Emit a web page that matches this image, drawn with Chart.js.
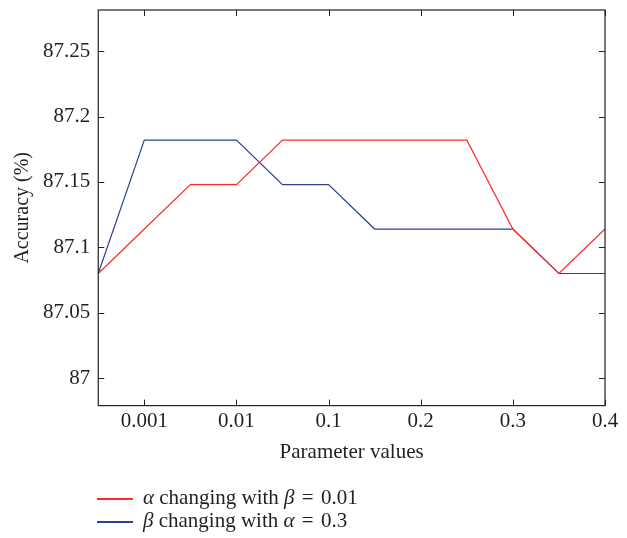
<!DOCTYPE html>
<html>
<head>
<meta charset="utf-8">
<script src="https://cdn.jsdelivr.net/npm/chart.js@4.4.0/dist/chart.umd.min.js"></script>
<style>
  html, body { margin: 0; padding: 0; background: #fff; }
  #wrap { position: relative; width: 627px; height: 538px; }
  #legend { position: absolute; left: 97px; top: 486px; font-family: "Liberation Serif", "DejaVu Serif", serif; font-size: 21px; color: #231f20; }
  #legend div { height: 23px; line-height: 23px; white-space: nowrap; }
  #legend span.sw { display: inline-block; width: 36px; height: 0; border-top: 2px solid; vertical-align: middle; margin-right: 10px; }
  #legend b { font-weight: normal; margin: 0 2px; }
</style>
</head>
<body>
<div id="wrap">
  <canvas id="grafico" width="627" height="538"></canvas>
  <div id="legend"></div>
</div>
<script>
// eixo x: 12 posições, só as ímpares têm rótulo
var xLabels = ['', '0.001', '', '0.01', '', '0.1', '', '0.2', '', '0.3', '', '0.4'];
var alphaValues = [87.080, 87.114, 87.148, 87.148, 87.182, 87.182, 87.182, 87.182, 87.182, 87.114, 87.080, 87.114];
var betaValues = [87.080, 87.182, 87.182, 87.182, 87.148, 87.148, 87.114, 87.114, 87.114, 87.114, 87.080, 87.080];
var seriesNames = ['<i>α</i> changing with <i>β</i> <b>=</b> 0.01', '<i>β</i> changing with <i>α</i> <b>=</b> 0.3'];
var seriesColors = ['#ff2b2b', '#2e3f94'];

var fonte = { family: '"Liberation Serif", "DejaVu Serif", serif', size: 21 };

// desenha a moldura com marcas para dentro
var moldura = {
    id: 'moldura',
    afterDraw: function (chart) {
        var ctx = chart.ctx, a = chart.chartArea;
        var x = chart.scales.x, y = chart.scales.y;
        ctx.save();
        ctx.strokeStyle = '#231f20';
        ctx.lineWidth = 1.2;
        ctx.strokeRect(a.left, a.top, a.right - a.left, a.bottom - a.top);
        ctx.lineWidth = 1;
        ctx.beginPath();
        xLabels.forEach(function (l, i) {
            if (l === '') return;
            var px = Math.round(x.getPixelForValue(i)) + 0.5;
            ctx.moveTo(px, a.bottom); ctx.lineTo(px, a.bottom - 6);
            ctx.moveTo(px, a.top); ctx.lineTo(px, a.top + 6);
        });
        y.ticks.forEach(function (t) {
            var py = Math.round(y.getPixelForValue(t.value)) + 0.5;
            ctx.moveTo(a.left, py); ctx.lineTo(a.left + 6, py);
            ctx.moveTo(a.right, py); ctx.lineTo(a.right - 6, py);
        });
        ctx.stroke();
        ctx.restore();
    }
};

const grafico = new Chart(document.getElementById('grafico'), {
    type: 'line',
    data: {
        labels: xLabels,
        datasets: [{
            label: 'alpha',
            data: alphaValues,
            borderColor: seriesColors[0],
            borderWidth: 1.2,
            pointRadius: 0,
            tension: 0
        }, {
            label: 'beta',
            data: betaValues,
            borderColor: seriesColors[1],
            borderWidth: 1.2,
            pointRadius: 0,
            tension: 0
        }]
    },
    options: {
        responsive: false,
        animation: false,
        layout: { padding: { top: 10, right: 22, bottom: 73, left: 11 } },
        plugins: { legend: { display: false }, tooltip: { enabled: false } },
        scales: {
            x: {
                offset: false,
                grid: { display: false, drawTicks: false },
                border: { display: false },
                ticks: { font: fonte, color: '#231f20', autoSkip: false, maxRotation: 0, padding: 3 },
                title: { display: true, text: 'Parameter values', font: fonte, color: '#231f20', padding: { top: 3, bottom: 0 } }
            },
            y: {
                min: 86.979,
                max: 87.2815,
                grid: { display: false, drawTicks: false },
                border: { display: false },
                afterFit: function (s) { s.paddingTop = 0; s.paddingBottom = 0; },
                ticks: {
                    stepSize: 0.05,
                    includeBounds: false,
                    font: fonte,
                    color: '#231f20',
                    padding: 8,
                    callback: function (v) { return String(+v.toFixed(2)); }
                },
                title: { display: true, text: 'Accuracy (%)', font: { family: fonte.family, size: 20 }, color: '#231f20', padding: { top: 0, bottom: 0 } }
            }
        }
    },
    plugins: [moldura]
});

// legenda em HTML para o itálico das letras gregas
var leg = document.getElementById('legend');
seriesNames.forEach(function (n, i) {
    leg.innerHTML += '<div><span class="sw" style="border-color:' + seriesColors[i] + '"></span>' + n + '</div>';
});
</script>
</body>
</html>
